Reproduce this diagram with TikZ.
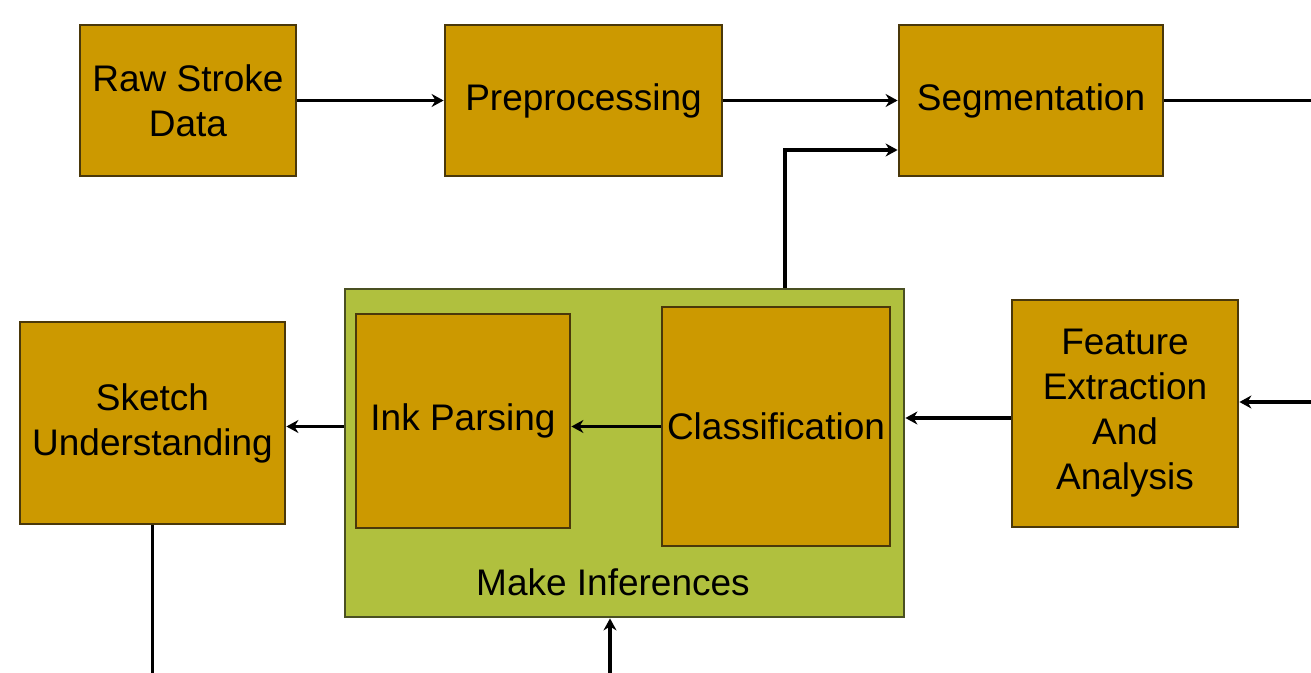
\documentclass[tikz,border=0pt]{standalone}
\usepackage{fontspec}
\setmainfont{Liberation Sans}
\usetikzlibrary{positioning,arrows.meta}
\definecolor{gold}{RGB}{204,153,0}
\definecolor{goldedge}{RGB}{74,56,10}
\definecolor{olive}{RGB}{176,192,62}
\definecolor{oliveedge}{RGB}{74,80,34}
\begin{document}
\begin{tikzpicture}[x=0.5pt,y=-0.5pt]
\tikzstyle{every node}+=[inner sep=0pt,align=center,font=\fontsize{18.5}{22.5}\selectfont]
\tikzstyle{block}=[draw=goldedge,fill=gold,line width=1.4pt]
\tikzstyle{group}=[draw=oliveedge,fill=olive,line width=1.4pt]
\tikzstyle{wire}=[black,line width=1.6pt]
\tikzstyle{flow}=[wire,-{Stealth[length=6pt,width=6.5pt]}]
\useasboundingbox (0,0) rectangle (1311,673);
% top row
\node [block,minimum width=108pt,minimum height=75.5pt] (raw) at (188,100.5) {Raw Stroke\\Data};
\node [block,minimum width=138.5pt,minimum height=75.5pt] (pre) at (583.5,100.5) {Preprocessing};
\node [block,minimum width=132pt,minimum height=75.5pt] (seg) at (1031,100.5) {Segmentation};
% inference group
\node [group,minimum width=279.5pt,minimum height=164pt] (infer) at (624.5,453) {};
\node (inferlabel) at (613,582) {Make Inferences};
\node [block,minimum width=107pt,minimum height=107pt] (ink) at (463,421) {Ink Parsing};
\node [block,minimum width=114pt,minimum height=119.5pt] (cls) at (776,426.5) {Classification};
% bottom row
\node [block,minimum width=132.5pt,minimum height=101pt] (sketch) at (152.5,423) {Sketch\\Understanding};
\node [block,minimum width=113pt,minimum height=113.5pt] (feat) at (1125,413.5) {Feature\\Extraction\\And\\Analysis};
% loose ends at the border
\coordinate (segout) at (1311,100.5);
\coordinate (featin) at (1311,402);
\coordinate (sketchout) at (152.5,673);
\coordinate (inferin) at (610,673);
% connectors
\draw [flow] (raw) -- (pre);
\draw [flow] (pre) -- (seg);
\draw [wire] (seg) -- (segout);
\draw [flow] (featin) -- (featin -| feat.east);
\draw [flow] ([yshift=-2.25pt]feat.west) -- ([yshift=-2.25pt]infer.east |- feat.west);
\draw [flow] (cls.west) -- (ink.east |- cls.west);
\draw [flow] (infer.west |- cls.west) -- (sketch.east |- cls.west);
\draw [wire] (sketch.south) -- (sketchout);
\draw [flow] (inferin) -- (inferin |- infer.south);
\draw [flow] ([xshift=4.5pt]cls.north |- infer.north) |- ([yshift=-24.75pt]seg.west);
\end{tikzpicture}
\end{document}
